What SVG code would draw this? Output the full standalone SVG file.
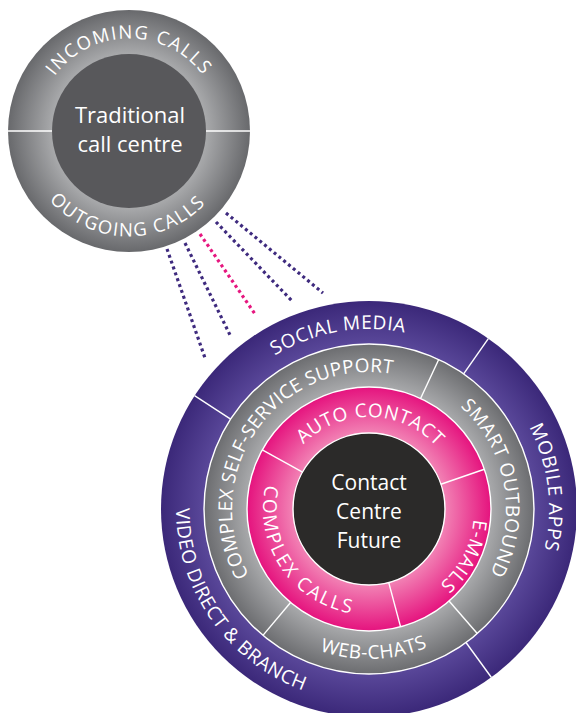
<svg xmlns="http://www.w3.org/2000/svg" xmlns:xlink="http://www.w3.org/1999/xlink" width="576" height="713" viewBox="0 0 576 713">
<style>
.lbl{font-family:"Open Sans","DejaVu Sans",sans-serif;font-size:19px;fill:#ffffff;letter-spacing:0.6px}
.ctr{font-family:"Open Sans","DejaVu Sans",sans-serif;font-size:21px;fill:#ffffff;text-anchor:middle}
.div{stroke:#ffffff;stroke-width:1.4;fill:none}
.ring{fill:none;stroke:#ffffff;stroke-width:1.4}
.dot{fill:none;stroke-width:3.2;stroke-dasharray:3 3.2}
.pu{stroke:#3e2a7e}
.pk{stroke:#e6177f}
</style>
<defs>
<radialGradient id="gTop" gradientUnits="userSpaceOnUse" cx="129" cy="131" r="121">
<stop offset="0.636" stop-color="#a8a9ab"/><stop offset="1" stop-color="#68696c"/>
</radialGradient>
<radialGradient id="gPur" gradientUnits="userSpaceOnUse" cx="369" cy="509" r="208">
<stop offset="0.79" stop-color="#5a489a"/><stop offset="1" stop-color="#3b2879"/>
</radialGradient>
<radialGradient id="gGry" gradientUnits="userSpaceOnUse" cx="369" cy="509" r="165">
<stop offset="0.74" stop-color="#a8a9ab"/><stop offset="1" stop-color="#6c6d70"/>
</radialGradient>
<radialGradient id="gPnk" gradientUnits="userSpaceOnUse" cx="369" cy="509" r="122">
<stop offset="0.62" stop-color="#f283b5"/><stop offset="1" stop-color="#e5137e"/>
</radialGradient>
<path id="pInc" d="M36.85,122.94 A92.5,92.5 0 0 1 221.15,122.94"/>
<path id="pOut" d="M23.76,138.36 A105.5,105.5 0 0 0 233.92,142.03"/>
<path id="pSoc" d="M189.69,524.69 A180,180 0 0 1 542.87,462.41"/>
<path id="pMob" d="M362.72,329.11 A180,180 0 0 1 406.42,685.07"/>
<path id="pVid" d="M244.94,361.15 A193,193 0 0 0 465.5,676.14"/>
<path id="pCss" d="M280.03,613.18 A137,137 0 0 1 438.53,390.96"/>
<path id="pSmt" d="M357.06,372.52 A137,137 0 0 1 404.46,641.33"/>
<path id="pWeb" d="M220.12,527.28 A150,150 0 0 0 518.79,516.85"/>
<path id="pAut" d="M277.5,499.38 A92,92 0 0 1 460.78,502.58"/>
<path id="pEm" d="M423.5,428.8 A92,92 0 0 1 336.4,595"/>
<path id="pCc" d="M302.29,426.62 A106,106 0 0 0 420.39,601.71"/>
</defs>

<g id="connectors">
<line class="dot pu" x1="167" y1="249" x2="205" y2="358"/>
<line class="dot pu" x1="185" y1="243" x2="230" y2="335"/>
<line class="dot pk" x1="200" y1="234" x2="255" y2="314"/>
<line class="dot pu" x1="216" y1="222" x2="293" y2="302"/>
<line class="dot pu" x1="226" y1="213" x2="323" y2="293"/>
</g>

<g id="traditional-call-centre">
<circle cx="129" cy="131" r="121" fill="url(#gTop)"/>
<line class="div" x1="8" y1="131" x2="250" y2="131"/>
<circle cx="129" cy="131" r="77" fill="#58585b"/>
<text class="ctr" style="font-size:22px"><tspan x="130" y="123">Traditional</tspan><tspan x="130" y="152">call centre</tspan></text>
<g id="incoming-calls"><text class="lbl" style="font-size:18.5px;letter-spacing:1.5px"><textPath xlink:href="#pInc" startOffset="50%" text-anchor="middle">INCOMING CALLS</textPath></text></g>
<g id="outgoing-calls"><text class="lbl" style="font-size:18.5px;letter-spacing:1.5px"><textPath xlink:href="#pOut" startOffset="50%" text-anchor="middle">OUTGOING CALLS</textPath></text></g>
</g>

<g id="contact-centre-future">
<circle cx="369" cy="509" r="208" fill="url(#gPur)"/>
<circle cx="369" cy="509" r="165" fill="url(#gGry)"/>
<circle cx="369" cy="509" r="122" fill="url(#gPnk)"/>
<circle cx="369" cy="509" r="76" fill="#2b2a29"/>
<circle class="ring" cx="369" cy="509" r="165"/>
<circle class="ring" cx="369" cy="509" r="122"/>
<circle class="ring" cx="369" cy="509" r="76"/>
<line class="div" x1="230.62" y1="419.13" x2="194.56" y2="395.71"/>
<line class="div" x1="463.64" y1="373.84" x2="488.3" y2="338.62"/>
<line class="div" x1="465.99" y1="642.49" x2="491.26" y2="677.28"/>
<line class="div" x1="420.56" y1="398.43" x2="438.73" y2="359.46"/>
<line class="div" x1="449.04" y1="601.07" x2="477.25" y2="633.53"/>
<line class="div" x1="290.58" y1="602.46" x2="262.94" y2="635.4"/>
<line class="div" x1="302.53" y1="472.15" x2="262.3" y2="449.85"/>
<line class="div" x1="440.86" y1="484.26" x2="484.35" y2="469.28"/>
<line class="div" x1="388.67" y1="582.41" x2="400.58" y2="626.84"/>
<text class="ctr"><tspan x="369" y="490">Contact</tspan><tspan x="369" y="519">Centre</tspan><tspan x="369" y="548">Future</tspan></text>
<g id="social-media"><text class="lbl"><textPath xlink:href="#pSoc" startOffset="50%" text-anchor="middle">SOCIAL MEDIA</textPath></text></g>
<g id="mobile-apps"><text class="lbl"><textPath xlink:href="#pMob" startOffset="50%" text-anchor="middle">MOBILE APPS</textPath></text></g>
<g id="video-direct-branch"><text class="lbl"><textPath xlink:href="#pVid" startOffset="50%" text-anchor="middle">VIDEO DIRECT &amp; BRANCH</textPath></text></g>
<g id="complex-self-service-support"><text class="lbl" style="letter-spacing:0.3px"><textPath xlink:href="#pCss" startOffset="50%" text-anchor="middle">COMPLEX SELF-SERVICE SUPPORT</textPath></text></g>
<g id="smart-outbound"><text class="lbl"><textPath xlink:href="#pSmt" startOffset="50%" text-anchor="middle">SMART OUTBOUND</textPath></text></g>
<g id="web-chats"><text class="lbl"><textPath xlink:href="#pWeb" startOffset="50%" text-anchor="middle">WEB-CHATS</textPath></text></g>
<g id="auto-contact"><text class="lbl"><textPath xlink:href="#pAut" startOffset="50%" text-anchor="middle">AUTO CONTACT</textPath></text></g>
<g id="e-mails"><text class="lbl"><textPath xlink:href="#pEm" startOffset="50%" text-anchor="middle">E-MAILS</textPath></text></g>
<g id="complex-calls"><text class="lbl" style="letter-spacing:2.2px"><textPath xlink:href="#pCc" startOffset="50%" text-anchor="middle">COMPLEX CALLS</textPath></text></g>
</g>
</svg>
